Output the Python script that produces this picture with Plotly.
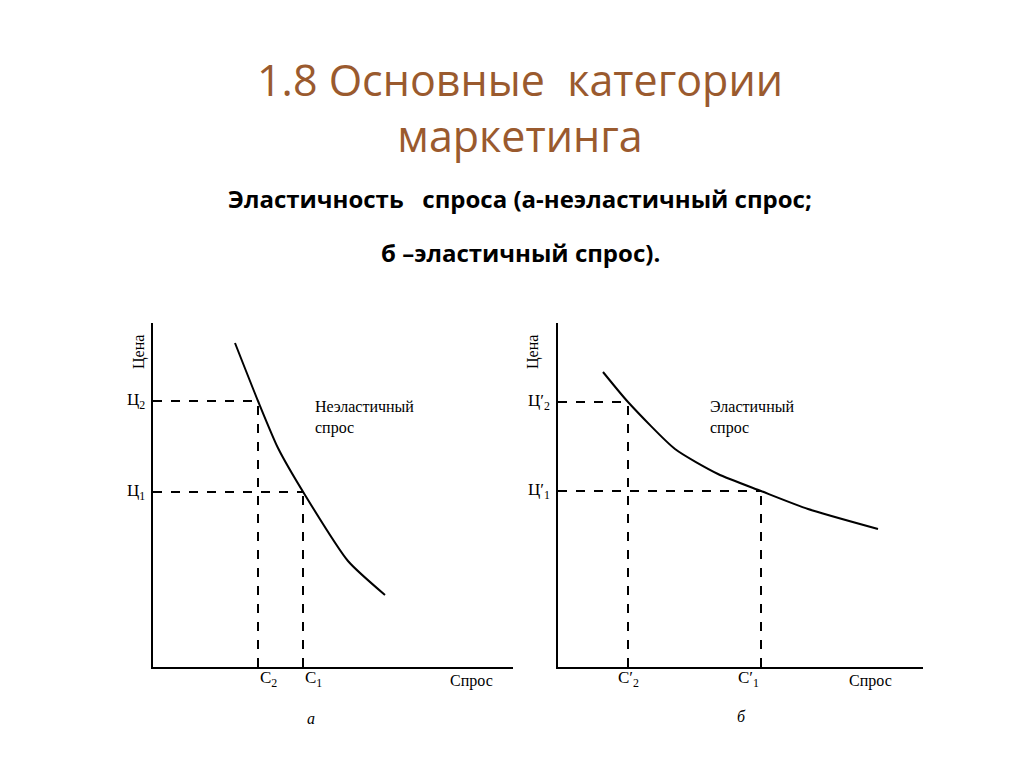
import plotly.graph_objects as go

# panel a (inelastic demand): curve points
a_x = [82, 105, 125, 152, 195, 232]
a_y = [324, 266, 219, 172, 106, 72]
a_q = [105, 150]   # С2, С1
a_p = [266, 175]   # Ц2, Ц1

# panel b (elastic demand)
b_x = [45, 70, 117, 160, 203, 250, 320]
b_y = [295, 265, 218, 193, 176, 158, 138]
b_q = [70, 203]    # С'2, С'1
b_p = [265, 176]   # Ц'2, Ц'1

W, H = 1024, 767
serif = "Liberation Serif"
fig = go.Figure()

fig.add_trace(go.Scatter(x=a_x, y=a_y, mode="lines", line=dict(color="black", width=2, shape="spline", smoothing=0.6),
                         xaxis="x", yaxis="y", showlegend=False))
fig.add_trace(go.Scatter(x=b_x, y=b_y, mode="lines", line=dict(color="black", width=2, shape="spline", smoothing=0.6),
                         xaxis="x2", yaxis="y2", showlegend=False))

dash = dict(color="black", width=2, dash="dash")
for xr, yr, qs, ps in [("x", "y", a_q, a_p), ("x2", "y2", b_q, b_p)]:
    for q, p in zip(qs, ps):
        fig.add_shape(type="line", xref=xr, yref=yr, x0=0, x1=q, y0=p, y1=p, line=dash)
        fig.add_shape(type="line", xref=xr, yref=yr, x0=q, x1=q, y0=0, y1=p, line=dash)

ydom = [(H - 659) / H, (H - 315) / H]
xdoms = {"a": ([145 / W, 505 / W], 360), "b": ([550 / W, 915 / W], 365)}
yrange = 344

def ann(text, x, y, panel, size=17, **kw):
    dom, xmax = xdoms[panel]
    px = dom[0] + x / xmax * (dom[1] - dom[0])
    py = ydom[0] + y / yrange * (ydom[1] - ydom[0])
    fig.add_annotation(text=text, x=px, y=py, xref="paper", yref="paper", showarrow=False,
                       font=dict(family=serif, size=size, color="black"), **kw)

ann("Ц<sub>2</sub>", -6, a_p[0], "a", xanchor="right")
ann("Ц<sub>1</sub>", -6, a_p[1], "a", xanchor="right")
ann("С<sub>2</sub>", a_q[0], -25, "a")
ann("С<sub>1</sub>", a_q[1], -25, "a")
ann("Неэластичный<br>спрос", 160, 250, "a", xanchor="left", align="left", size=16)
ann("Цена", -25, 315, "a", textangle=-90, size=16)
ann("Спрос", 318, -25, "a", size=16)
ann("<i>а</i>", 152, -62, "a", size=16)

ann("Ц′<sub>2</sub>", -6, b_p[0], "b", xanchor="right")
ann("Ц′<sub>1</sub>", -6, b_p[1], "b", xanchor="right")
ann("С′<sub>2</sub>", b_q[0], -25, "b")
ann("С′<sub>1</sub>", b_q[1], -25, "b")
ann("Эластичный<br>спрос", 150, 250, "b", xanchor="left", align="left", size=16)
ann("Цена", -25, 315, "b", textangle=-90, size=16)
ann("Спрос", 336, -25, "b", size=16)
ann("<i>б</i>", 190, -60, "b", size=16)

title_font = dict(family="Open Sans", size=43, color="#9A5A2E")
fig.add_annotation(text="1.8 Основные  категории<br>маркетинга", x=0.5, y=(H - 100) / H,
                   xref="paper", yref="paper", showarrow=False, font=title_font, yanchor="middle")
sub_font = dict(family="Open Sans", size=24, color="black")
fig.add_annotation(text="<b>Эластичность   спроса (а-неэластичный спрос;</b>", x=0.5, y=(H - 190) / H,
                   xref="paper", yref="paper", showarrow=False, font=sub_font, yanchor="middle")
fig.add_annotation(text="<b>б –эластичный спрос).</b>", x=0.5, y=(H - 245) / H,
                   xref="paper", yref="paper", showarrow=False, font=sub_font, yanchor="middle")

ax = dict(showline=True, linecolor="black", linewidth=2, showgrid=False, zeroline=False,
          showticklabels=False, ticks="", fixedrange=True)
fig.update_layout(
    width=W, height=H, margin=dict(l=0, r=0, t=0, b=0),
    plot_bgcolor="white", paper_bgcolor="white",
    xaxis=dict(ax, domain=xdoms["a"][0], range=[0, 360]),
    yaxis=dict(ax, domain=ydom, range=[0, yrange]),
    xaxis2=dict(ax, domain=xdoms["b"][0], range=[0, 365], anchor="y2"),
    yaxis2=dict(ax, domain=ydom, range=[0, yrange], anchor="x2"),
)
fig.write_html("out.html")
